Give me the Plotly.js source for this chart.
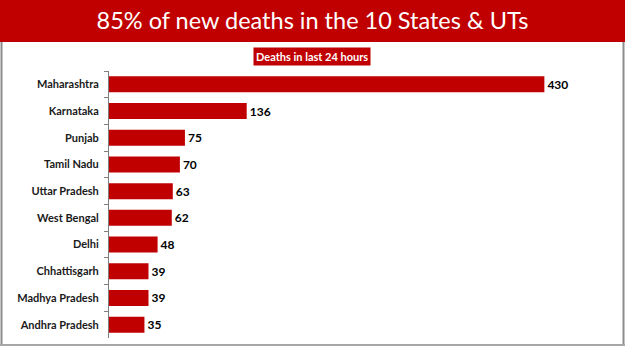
<!DOCTYPE html>
<html><head><meta charset="utf-8">
<script src="https://cdn.plot.ly/plotly-3.0.1.min.js"></script>
<style>html,body{margin:0;padding:0;background:#fff;}#chart{width:625px;height:351px;}</style>
</head><body><div id="chart"></div>
<script>
const states = ["Maharashtra","Karnataka","Punjab","Tamil Nadu","Uttar Pradesh","West Bengal","Delhi","Chhattisgarh","Madhya Pradesh","Andhra Pradesh"];
const deaths = [430,136,75,70,63,62,48,39,39,35];
const titleText = "85% of new deaths in the 10 States & UTs";
const subtitleText = "Deaths in last 24 hours";

const W = 625, H = 351;
const L = 109, R = 30, T = 71, B = 13;
const pw = W - L - R, ph = H - T - B;
const px = x => (x - L) / pw;
const py = y => (H - B - y) / ph;
const red = "#C00000";

const trace = {
  type: "bar", orientation: "h",
  y: states, x: deaths,
  marker: {color: red},
  text: deaths.map(String), textposition: "outside", cliponaxis: false,
  textfont: {family: "Lato, sans-serif", size: 12, color: "#000", weight: "bold"},
  hoverinfo: "skip"
};

const layout = {
  width: W, height: H,
  margin: {l: L, r: R, t: T, b: B},
  paper_bgcolor: "#fff", plot_bgcolor: "#fff",
  showlegend: false,
  bargap: 0.4,
  title: {text: titleText, font: {family: "Lato, sans-serif", size: 23.5, color: "#fff"},
          x: 0.5, xanchor: "center", xref: "container", y: 1 - 21/H, yanchor: "middle", yref: "container"},
  xaxis: {range: [0, 480], visible: false, fixedrange: true},
  yaxis: {type: "category", autorange: "reversed", showline: true, linecolor: "#7f7f7f", linewidth: 1,
          ticks: "outside", ticklen: 4, tickcolor: "#7f7f7f", tickson: "boundaries",
          showgrid: false, ticklabelstandoff: 7,
          tickfont: {family: "Lato, sans-serif", size: 11, color: "#1a1a1a", weight: "bold"}},
  shapes: [
    {type: "rect", xref: "paper", yref: "paper", x0: px(0), x1: px(W), y0: py(42), y1: py(0),
     fillcolor: red, line: {width: 0}, layer: "below"},
    {type: "line", xref: "paper", yref: "paper", x0: px(1.5), x1: px(1.5), y0: py(42), y1: py(345),
     line: {color: "#8c8c8c", width: 2}},
    {type: "line", xref: "paper", yref: "paper", x0: px(623.5), x1: px(623.5), y0: py(42), y1: py(345),
     line: {color: "#8c8c8c", width: 2}},
    {type: "line", xref: "paper", yref: "paper", x0: px(0), x1: px(W), y0: py(345), y1: py(345),
     line: {color: "#a6a6a6", width: 2}}
  ],
  annotations: [
    {xref: "paper", yref: "paper", x: px(312), y: py(56), xanchor: "center", yanchor: "middle",
     text: "<b>" + subtitleText + "</b>", showarrow: false, bgcolor: red, borderpad: 2,
     font: {family: "Lato, sans-serif", size: 11, color: "#fff"}}
  ]
};

Plotly.newPlot("chart", [trace], layout, {displayModeBar: false, staticPlot: true});
</script></body></html>
